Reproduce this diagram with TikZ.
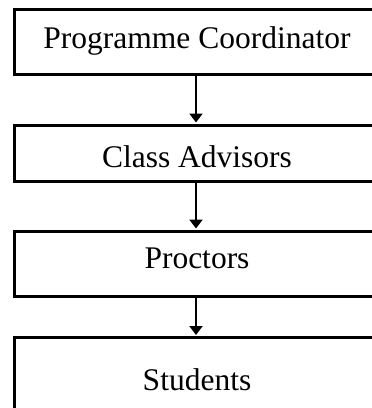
\documentclass[tikz,border=0pt]{standalone}
\usepackage{fontspec}
\setmainfont{Liberation Serif}
\usetikzlibrary{arrows.meta}

\begin{document}
\begin{tikzpicture}[x=1pt,y=-1pt,color=black,
  box/.style={draw,rectangle,line width=3pt,inner sep=0pt,minimum width=364pt},
  lbl/.style={anchor=base,inner sep=0pt,font=\fontsize{31.5}{36}\selectfont},
  arr/.style={line width=2.5pt,-{Triangle[width=13pt,length=9pt]},shorten >=1pt}]
\useasboundingbox (0,0) rectangle (372,408);
\node(PC) [box,minimum height=65.5pt] at (196,42.2) {};
\node(CA) [box,minimum height=56.5pt] at (196,153.25) {};
\node(PR) [box,minimum height=65.5pt] at (196,263.75) {};
\node(ST) [box,minimum height=82.5pt] at (196,378.75) {};
\node(PCtext) [lbl] at (197,48.3) {Programme Coordinator};
\node(CAtext) [lbl] at (197,167.5) {Class Advisors};
\node(PRtext) [lbl] at (197,268.3) {Proctors};
\node(STtext) [lbl] at (197,390) {Students};
\draw[arr] (PC.south) -- (CA.north);
\draw[arr] (CA.south) -- (PR.north);
\draw[arr] (PR.south) -- (ST.north);
\end{tikzpicture}
\end{document}
